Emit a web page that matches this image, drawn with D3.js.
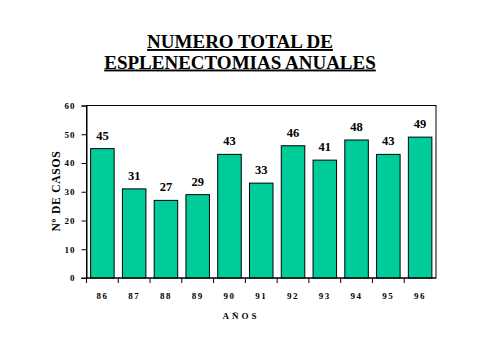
<!DOCTYPE html>
<html><head><meta charset="utf-8">
<script src="https://cdn.jsdelivr.net/npm/d3@7"></script>
<style>body{margin:0;background:#fff}svg{display:block}
text{font-family:"Liberation Serif","Tinos","DejaVu Serif","Times New Roman",Times,serif}</style>
</head><body>
<svg id="c" width="480" height="360"></svg>
<script>
const years = ["86","87","88","89","90","91","92","93","94","95","96"];
const casos = [45,31,27,29,43,33,46,41,48,43,49];
const yTicks = [0,10,20,30,40,50,60];
const titleLines = ["NUMERO TOTAL DE","ESPLENECTOMIAS ANUALES"];

const svg = d3.select("#c");
const L=86.5, R=436, T=105.5, B=278;
const x = d3.scaleBand().domain(years).range([L,R]).paddingInner(0.26).paddingOuter(0.13);
const y = d3.scaleLinear().domain([0,60]).range([B,T]);

titleLines.forEach((t,i)=>{
  svg.append("text").attr("x",240).attr("y",48+i*20.5)
    .attr("text-anchor","middle").attr("font-weight","bold")
    .attr("font-size",19).attr("text-decoration","underline").text(t);
});

svg.append("rect").attr("x",L).attr("y",T).attr("width",R-L).attr("height",B-T)
  .attr("fill","none").attr("stroke","#000").attr("stroke-width",1);

svg.selectAll("rect.bar").data(casos).join("rect").attr("class","bar")
  .attr("x",(d,i)=>x(years[i])).attr("y",d=>y(d))
  .attr("width",x.bandwidth()).attr("height",d=>B-y(d))
  .attr("fill","#00CC99").attr("stroke","#000").attr("stroke-width",1);

svg.selectAll("text.val").data(casos).join("text").attr("class","val")
  .attr("x",(d,i)=>x(years[i])+x.bandwidth()/2).attr("y",d=>y(d)-9)
  .attr("text-anchor","middle").attr("font-weight","bold")
  .attr("font-size",12.5).text(d=>d);

const ya = svg.append("g").attr("transform",`translate(${L},0)`)
  .call(d3.axisLeft(y).tickValues(yTicks).tickSize(5).tickPadding(6));
ya.attr("font-family",null);
ya.select(".domain").attr("stroke","#000");
ya.selectAll("text").attr("font-weight","bold").attr("font-size",9).attr("letter-spacing",1).attr("fill","#000");

const xa = svg.append("g").attr("transform",`translate(0,${B})`)
  .call(d3.axisBottom(x).tickSize(0).tickPadding(15));
xa.attr("font-family",null);
xa.select(".domain").remove();
xa.selectAll("text").attr("font-weight","bold").attr("font-size",9).attr("letter-spacing",1.5).attr("fill","#000");
svg.append("line").attr("x1",L-5).attr("x2",R).attr("y1",B).attr("y2",B).attr("stroke","#000");
svg.selectAll("line.xt").data(years).join("line").attr("class","xt")
  .attr("x1",d=>x(d)-x.step()*x.paddingInner()/2).attr("x2",d=>x(d)-x.step()*x.paddingInner()/2)
  .attr("y1",B).attr("y2",B+5).attr("stroke","#000");

svg.append("text").attr("x",241).attr("y",319).attr("text-anchor","middle")
  .attr("font-weight","bold").attr("font-size",9)
  .attr("letter-spacing",3).text("AÑOS");

svg.append("text").attr("transform","translate(60,191) rotate(-90)").attr("text-anchor","middle")
  .attr("font-weight","bold").attr("font-size",11.5)
  .attr("letter-spacing",0.8).text("Nº DE CASOS");
</script>
</body></html>
